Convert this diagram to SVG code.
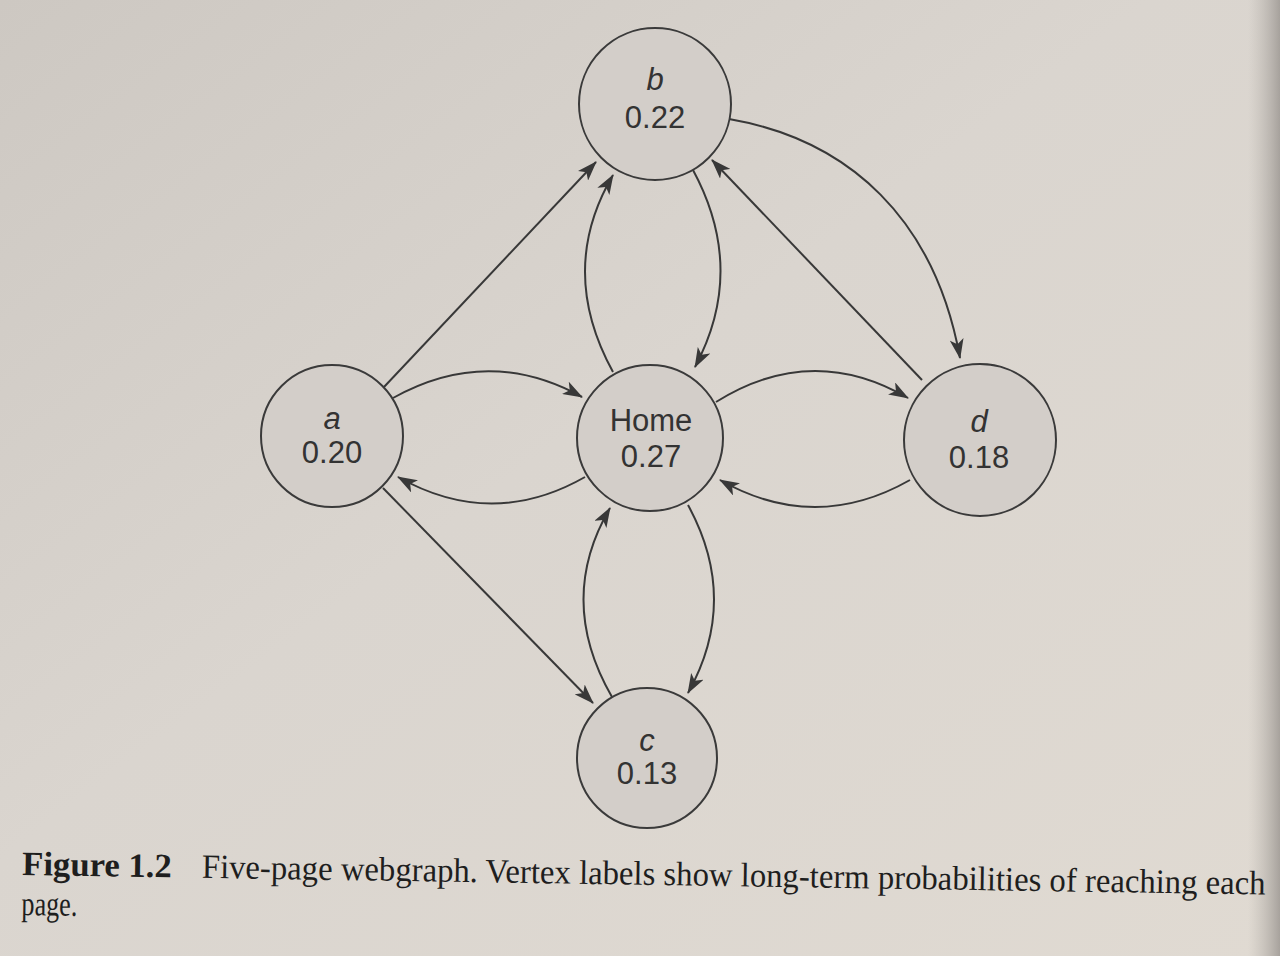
<svg xmlns="http://www.w3.org/2000/svg" width="1280" height="956" viewBox="0 0 1280 956">
  <defs>
    <linearGradient id="page" x1="0" y1="0" x2="1" y2="1">
      <stop offset="0" stop-color="#cdc8c2"/>
      <stop offset="0.45" stop-color="#dad5cf"/>
      <stop offset="1" stop-color="#e0dad2"/>
    </linearGradient>
    <linearGradient id="edge" x1="0" y1="0" x2="1" y2="0">
      <stop offset="0" stop-color="#b9b4ae" stop-opacity="0"/>
      <stop offset="1" stop-color="#9d9893" stop-opacity="0.85"/>
    </linearGradient>
    <marker id="arr" markerUnits="userSpaceOnUse" markerWidth="20" markerHeight="14" refX="19" refY="7" orient="auto" viewBox="0 0 20 14">
      <path d="M0,0 L20,7 L0,14 L5,7 Z" fill="#383838"/>
    </marker>
    <style>
      .node circle { fill: #d3cec9; stroke: #3a3a3a; stroke-width: 2; }
      .lbl { font-family: "Liberation Sans", Arial, sans-serif; font-size: 31px; fill: #333; text-anchor: middle; }
      .it { font-style: italic; }
      .edge { fill: none; stroke: #383838; stroke-width: 2; marker-end: url(#arr); }
      .cap { font-family: "Liberation Serif", "Times New Roman", serif; font-size: 34px; fill: #1e1e1e; }
    </style>
  </defs>

  <rect x="0" y="0" width="1280" height="956" fill="url(#page)"/>
  <rect x="1248" y="0" width="32" height="956" fill="url(#edge)"/>

  <g id="connectors">
    <path class="edge" d="M384,387 L596,162"/>
    <path class="edge" d="M393,398 Q488,345 582,397"/>
    <path class="edge" d="M585,477 Q492,530 398,477"/>
    <path class="edge" d="M383,488 L593,703"/>
    <path class="edge" d="M693,170 Q747,270 695,367"/>
    <path class="edge" d="M613,372 Q557,270 613,175"/>
    <path class="edge" d="M729,119 C850,140 935,220 960,358"/>
    <path class="edge" d="M922,380 L712,160"/>
    <path class="edge" d="M716,402 Q812,342 908,398"/>
    <path class="edge" d="M910,480 Q815,534 720,480"/>
    <path class="edge" d="M688,505 Q740,600 688,693"/>
    <path class="edge" d="M612,697 Q556,600 610,508"/>
  </g>

  <g id="node-b" class="node">
    <circle cx="655" cy="104" r="76"/>
    <text class="lbl it" x="655" y="90">b</text>
    <text class="lbl" x="655" y="128">0.22</text>
  </g>
  <g id="node-a" class="node">
    <circle cx="332" cy="436" r="71"/>
    <text class="lbl it" x="332" y="429">a</text>
    <text class="lbl" x="332" y="463">0.20</text>
  </g>
  <g id="node-home" class="node">
    <circle cx="650" cy="438" r="73"/>
    <text class="lbl" x="651" y="431">Home</text>
    <text class="lbl" x="651" y="467">0.27</text>
  </g>
  <g id="node-d" class="node">
    <circle cx="980" cy="440" r="76"/>
    <text class="lbl it" x="979" y="432">d</text>
    <text class="lbl" x="979" y="468">0.18</text>
  </g>
  <g id="node-c" class="node">
    <circle cx="647" cy="758" r="70"/>
    <text class="lbl it" x="647" y="751">c</text>
    <text class="lbl" x="647" y="784">0.13</text>
  </g>

  <g id="caption" transform="rotate(0.9 22 875) translate(22 0) scale(0.86 1) translate(-22 0)">
    <text class="cap" x="22" y="875" font-weight="bold" textLength="174" lengthAdjust="spacingAndGlyphs">Figure 1.2</text>
    <text class="cap" x="231" y="875" textLength="1237" lengthAdjust="spacingAndGlyphs">Five-page webgraph. Vertex labels show long-term probabilities of reaching each</text>
    <text class="cap" x="22" y="915" textLength="65" lengthAdjust="spacingAndGlyphs">page.</text>
  </g>
</svg>
